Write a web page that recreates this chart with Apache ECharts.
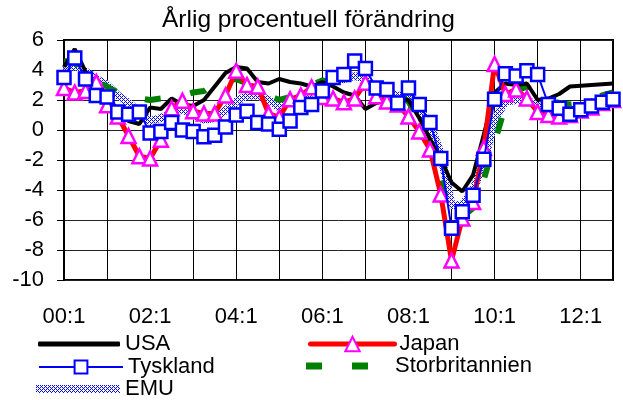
<!DOCTYPE html>
<html>
<head>
<meta charset="utf-8">
<script src="https://cdn.jsdelivr.net/npm/echarts@6/dist/echarts.min.js"></script>
<style>
  html, body { margin: 0; padding: 0; background: #fff; }
  #chart { width: 623px; height: 400px; }
</style>
</head>
<body>
<div id="chart"></div>
<script>
// kvartal 00:1 .. 12:4
const years = ['00', '01', '02', '03', '04', '05', '06', '07', '08', '09', '10', '11', '12']
const quarters = []
years.forEach(y => { for (let q = 1; q <= 4; q++) quarters.push(y + ':' + q) })

const usa = [4.2, 5.4, 3.9, 2.9, 2.3, 1.3, 0.6, 0.4, 1.5, 1.4,
  2.1, 1.7, 1.6, 2.0, 2.9, 3.8, 4.2, 4.1, 3.2, 3.1,
  3.4, 3.2, 3.1, 2.9, 3.2, 2.9, 2.5, 2.3, 1.4, 1.8,
  2.0, 2.1, 2.0, 0.8, -0.6, -1.9, -3.5, -4.1, -3.0, -0.3,
  2.5, 3.1, 3.0, 3.1, 2.0, 2.1, 2.4, 2.9, 2.95, 3.0, 3.05, 3.1]
const japan = [2.8, 2.5, 2.6, 3.2, 1.65, 0.9, -0.4, -1.75, -1.9, -0.65,
  1.45, 1.95, 1.25, 1.1, 1.1, 2.3, 3.95, 3.0, 2.9, 1.1,
  0.85, 2.05, 2.3, 2.85, 2.2, 2.1, 1.85, 2.1, 3.15, 2.25,
  1.9, 1.7, 0.9, -0.1, -1.3, -4.3, -8.7, -5.9, -4.8, -1.2,
  4.4, 2.4, 2.7, 2.1, 1.2, 1.0, 0.9, 1.0, 1.3, 1.5, 1.8, 2.0]
const tyskland = [3.5, 4.8, 3.4, 2.3, 2.2, 1.2, 1.05, 1.2, -0.2, -0.1,
  0.5, 0.0, -0.1, -0.45, -0.35, 0.2, 1.0, 1.25, 0.5, 0.4,
  0.05, 0.6, 1.5, 1.7, 2.6, 3.5, 3.7, 4.6, 4.1, 2.8,
  2.7, 1.8, 2.8, 1.7, 0.5, -1.9, -6.55, -5.45, -4.35, -1.95,
  2.05, 3.75, 3.6, 3.95, 3.7, 1.7, 1.45, 1.05, 1.35, 1.6, 1.85, 2.05]
const storbritannien = [4.6, 4.5, 3.8, 3.2, 2.9, 2.5, 2.2, 2.1, 2.0, 2.1,
  2.2, 2.3, 2.5, 2.6, 3.1, 3.3, 3.4, 3.1, 2.7, 2.3,
  2.0, 2.2, 2.5, 3.0, 3.3, 3.1, 2.8, 2.9, 3.0, 2.8,
  2.5, 2.4, 1.9, 0.7, -1.0, -3.5, -5.5, -5.8, -5.2, -3.3,
  -0.8, 1.6, 2.6, 2.9, 2.3, 2.0, 1.8, 1.7, 1.8, 2.1, 2.3, 2.5]
const emu = [4.0, 4.3, 3.9, 3.4, 3.0, 2.3, 1.8, 1.2, 0.6, 0.8,
  1.1, 1.4, 1.0, 0.7, 0.8, 1.3, 1.9, 2.3, 2.3, 2.0,
  1.5, 1.8, 2.2, 2.5, 3.0, 3.2, 3.4, 3.6, 3.4, 2.7,
  2.5, 2.3, 2.2, 1.4, 0.4, -1.6, -5.0, -5.0, -4.0, -2.2,
  0.7, 1.9, 2.0, 2.0, 1.6, 1.4, 1.4, 1.3, 1.4, 1.6, 1.8, 2.0]

const font = '"Liberation Sans", Arial, sans-serif'

// prickigt mönster for EMU-bandet (blå punkter på vitt)
const pat = document.createElement('canvas')
pat.width = 4
pat.height = 4
const pctx = pat.getContext('2d')
pctx.fillStyle = '#fff'
pctx.fillRect(0, 0, 4, 4)
pctx.fillStyle = '#0000ff'
;[[0, 0], [2, 0], [1, 1], [0, 2], [2, 2], [3, 3]].forEach(p => pctx.fillRect(p[0], p[1], 1, 1))
const emuColor = { image: pat, repeat: 'repeat' }

const myChart = echarts.init(document.getElementById('chart'), null, { renderer: 'canvas' })

const legendText = { fontFamily: font, fontSize: 22, color: '#000' }

function legendAt(item, left, top, w, h, extra) {
  return Object.assign({
    data: [item],
    left: left,
    top: top,
    padding: 0,
    itemWidth: w,
    itemHeight: h,
    textStyle: legendText,
    selectedMode: false
  }, extra || {})
}

const option = {
  animation: false,
  backgroundColor: '#fff',
  textStyle: { fontFamily: font },
  title: {
    text: 'Årlig procentuell förändring',
    left: 157,
    top: 3,
    textStyle: { fontFamily: font, fontSize: 24.5, fontWeight: 'normal', color: '#000' }
  },
  legend: [
    legendAt({ name: 'USA', icon: 'roundRect', itemStyle: { color: '#000' } }, 38, 333, 82, 5),
    legendAt('Tyskland', 38, 356, 84, 16, { lineStyle: { width: 2 } }),
    legendAt({
      name: 'EMU',
      icon: 'rect',
      itemStyle: { color: emuColor, borderWidth: 0, borderColor: 'transparent', opacity: 1 }
    }, 36, 378, 84, 8),
    legendAt('Japan', 308, 333, 84, 18, { lineStyle: { width: 5, cap: 'round' } }),
    legendAt({
      name: 'Storbritannien',
      icon: 'path://M0,0h16v7h-16z M46,0h16v7h-16z M84,0v7',
      itemStyle: { color: '#008000', borderWidth: 0 }
    }, 306, 355, 84, 7)
  ],
  grid: {
    left: 64,
    right: 10,
    top: 40,
    bottom: 120,
    show: true,
    borderColor: '#000',
    borderWidth: 2,
    backgroundColor: 'transparent'
  },
  xAxis: {
    type: 'category',
    data: quarters,
    boundaryGap: false,
    axisLine: { show: false },
    axisTick: { show: false },
    axisLabel: {
      interval: function (i) { return i % 8 === 0 },
      margin: 26,
      fontSize: 22,
      fontFamily: font,
      color: '#000'
    },
    splitLine: {
      show: true,
      interval: function (i) { return i % 4 === 0 && i > 0 },
      lineStyle: { color: '#000', width: 1 }
    }
  },
  yAxis: {
    type: 'value',
    min: -10,
    max: 6,
    interval: 2,
    axisLine: { show: true, lineStyle: { color: '#000', width: 2 } },
    axisTick: { show: true, inside: false, length: 7, lineStyle: { color: '#000', width: 1 } },
    axisLabel: { margin: 20, fontSize: 22, fontFamily: font, color: '#000' },
    splitLine: { show: true, lineStyle: { color: '#222', width: 1 } }
  },
  series: [
    {
      name: 'EMU',
      type: 'line',
      data: emu,
      symbol: 'none',
      color: '#0000ff',
      lineStyle: { color: emuColor, width: 8 },
      z: 1
    },
    {
      name: 'Storbritannien',
      type: 'line',
      data: storbritannien,
      symbol: 'none',
      color: '#008000',
      lineStyle: { color: '#008000', width: 6, type: [16, 30] },
      z: 2
    },
    {
      name: 'USA',
      type: 'line',
      data: usa,
      symbol: 'none',
      color: '#000',
      lineStyle: { color: '#000', width: 4 },
      z: 3
    },
    {
      name: 'Japan',
      type: 'line',
      data: japan,
      symbol: 'triangle',
      symbolSize: 14,
      showAllSymbol: true,
      color: '#ff0000',
      lineStyle: { color: '#ff0000', width: 5 },
      itemStyle: { color: '#fff', borderColor: '#ff00ff', borderWidth: 2.5 },
      z: 4
    },
    {
      name: 'Tyskland',
      type: 'line',
      data: tyskland,
      symbol: 'rect',
      symbolSize: 13,
      showAllSymbol: true,
      color: '#0000ff',
      lineStyle: { color: '#0000ff', width: 2 },
      itemStyle: { color: '#fff', borderColor: '#0000ff', borderWidth: 2.5 },
      z: 5
    }
  ]
}

myChart.setOption(option)
</script>
</body>
</html>
